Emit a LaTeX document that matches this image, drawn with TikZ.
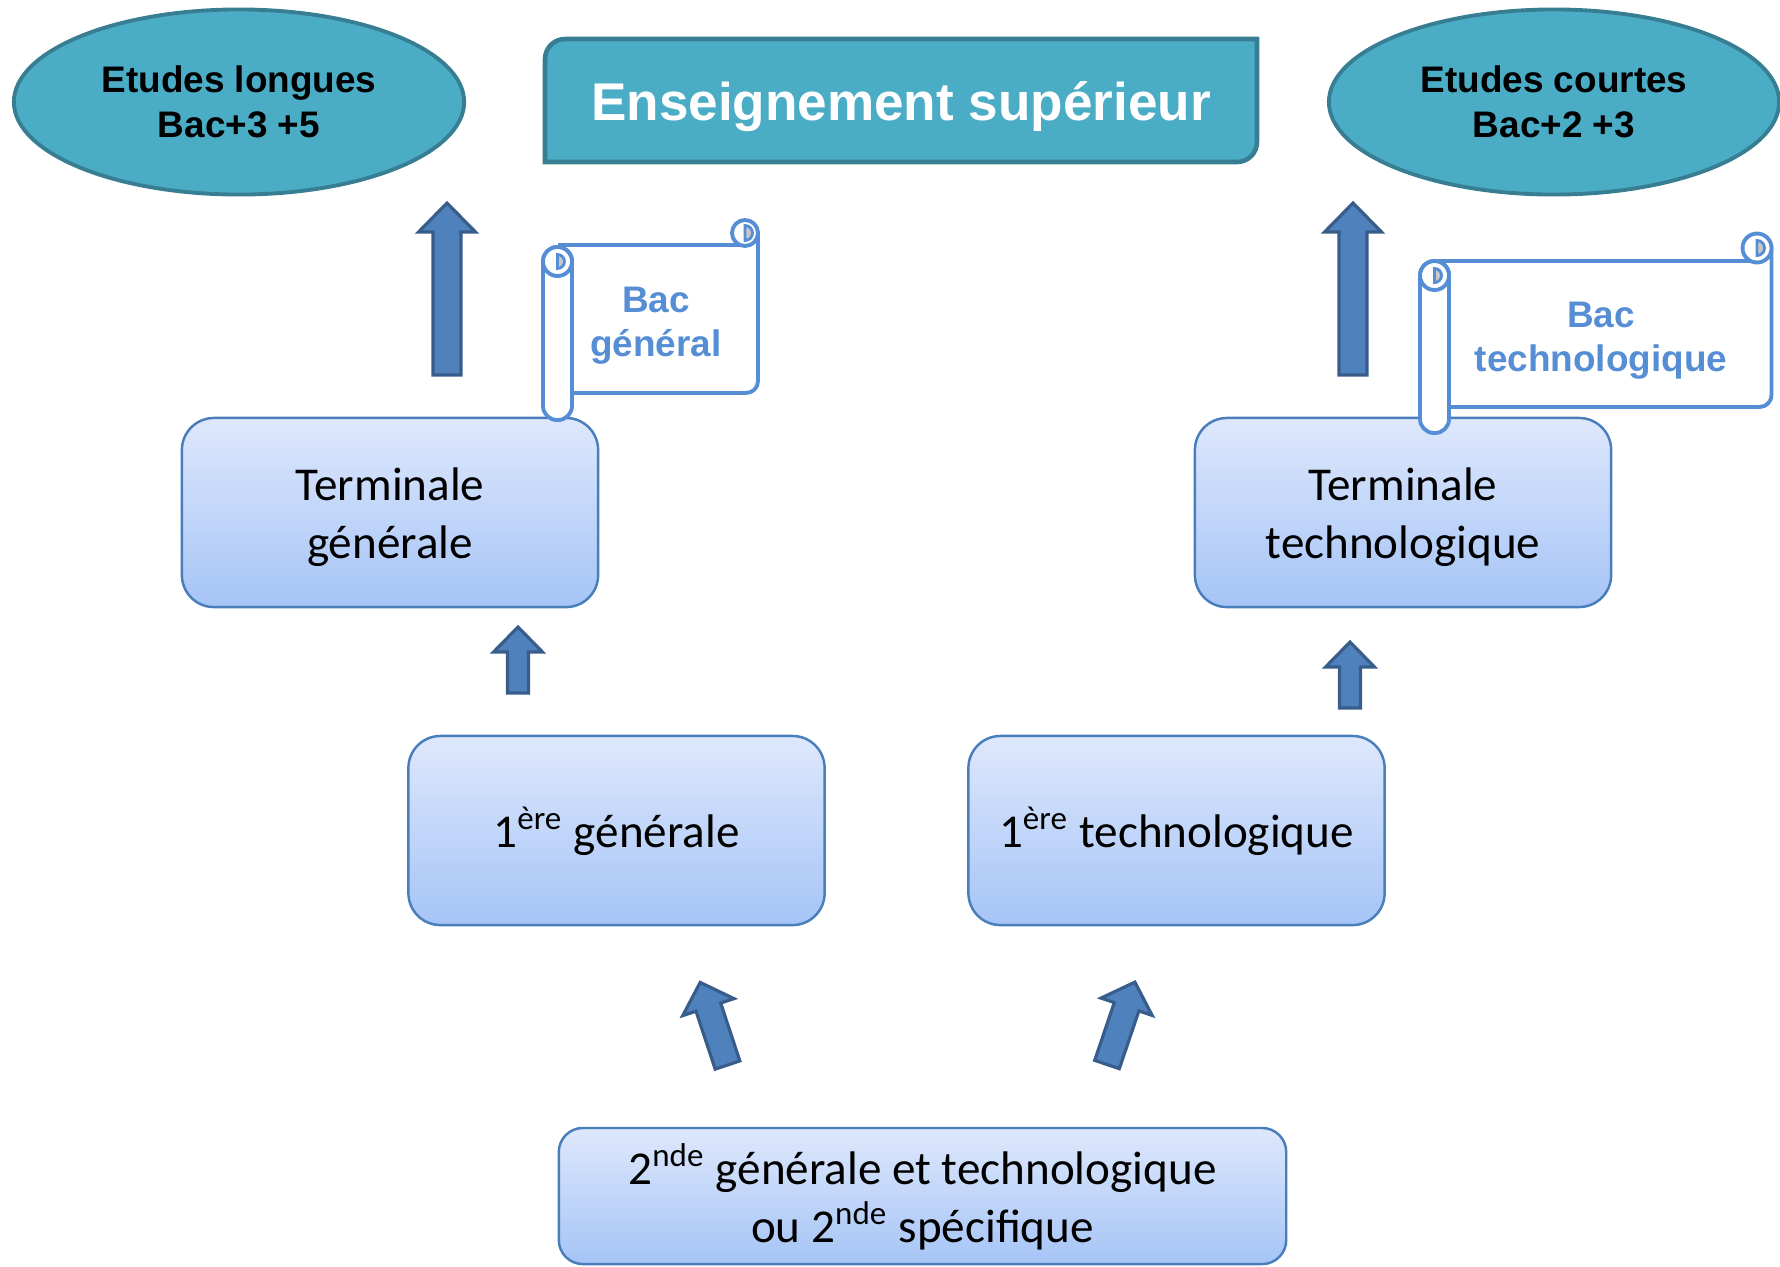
\documentclass[tikz,border=0pt]{standalone}
\usepackage{fontspec}
\setmainfont{Carlito}
\newfontfamily\arialfont{Liberation Sans}
\usetikzlibrary{shapes.geometric,positioning}

\definecolor{tealfill}{RGB}{75,172,198}
\definecolor{tealline}{RGB}{56,126,146}
\definecolor{boxtop}{RGB}{222,232,252}
\definecolor{boxbot}{RGB}{165,196,246}
\definecolor{boxline}{RGB}{74,126,187}
\definecolor{arrowfill}{RGB}{79,129,189}
\definecolor{arrowline}{RGB}{56,93,138}
\definecolor{scrollblue}{RGB}{85,142,213}
\definecolor{curlgray}{RGB}{200,200,200}

\begin{document}
\begin{tikzpicture}[x=0.01cm,y=-0.01cm,
  tealoval/.style={ellipse, draw=tealline, fill=tealfill, line width=1.1pt, minimum width=4.5cm, minimum height=1.85cm, inner sep=0pt, align=center, font=\arialfont\bfseries\fontsize{10.5}{12.8}\selectfont},
  banner/.style={draw=tealline, fill=tealfill, line width=1.3pt},
  bannertext/.style={text=white, font=\arialfont\bfseries\fontsize{15.1}{18}\selectfont},
  levelbox/.style={draw=boxline, line width=0.7pt, rounded corners=0.32cm, top color=boxtop, bottom color=boxbot, minimum width=4.16cm, minimum height=1.89cm, inner sep=0pt, align=center, font=\fontsize{13.4}{16.5}\selectfont},
  boxtext/.style={align=center, inner sep=0pt, font=\fontsize{13.4}{16.5}\selectfont},
  scrollpaper/.style={draw=scrollblue, fill=white, line width=1.1pt},
  rollcurl/.style={draw=scrollblue, fill=curlgray, line width=0.8pt},
  scrolltext/.style={text=scrollblue, align=center, font=\arialfont\bfseries\fontsize{10.5}{12.6}\selectfont},
  blockarrow/.style={draw=arrowline, fill=arrowfill, line width=0.9pt, line join=miter}]
\useasboundingbox (0,0) rectangle (1780,1266);
\node[tealoval] (longues) at (239,102) {Etudes longues\\Bac+3 +5};
\node[tealoval] (courtes) at (1554,102) {Etudes courtes\\Bac+2 +3};
\filldraw[banner] (545,162) -- (545,59) arc (180:270:20) -- (1257,39) -- (1257,142) arc (0:90:20) -- cycle;
\node[bannertext] (sup) at (901,106.5) {Enseignement supérieur};
\node[levelbox] (termg) at (390,512.5) {};
\node[boxtext] (termgtxt) at ([yshift=-0.05cm]termg.center) {Terminale\\générale};
\node[levelbox] (termt) at (1403,512.5) {};
\node[boxtext] (termttxt) at ([yshift=-0.05cm]termt.center) {Terminale\\technologique};
\node[levelbox] (premg) at (616.5,830.5) {};
\node[boxtext] (premgtxt) at ([yshift=-0.01cm]premg.center) {1\textsuperscript{ère} générale};
\node[levelbox] (premt) at (1176.5,830.5) {};
\node[boxtext] (premttxt) at ([yshift=-0.01cm]premt.center) {1\textsuperscript{ère} technologique};
\node[levelbox, minimum width=7.27cm, minimum height=1.36cm, rounded corners=0.24cm] (seconde) at (922.5,1196) {};
\node[boxtext] (secondetxt) at ([yshift=-0.01cm]seconde.center) {2\textsuperscript{nde} générale et technologique\\ou 2\textsuperscript{nde} spécifique};
\filldraw[scrollpaper] (560,245) -- (745,245) -- (745,233) -- (758,233) -- (758,381) arc (0:90:12) -- (560,393) -- cycle;
\filldraw[scrollpaper] (745,233) circle (13);
\filldraw[rollcurl] (745,225.5) arc (-90:90:7.5) -- cycle;
\filldraw[scrollpaper, rounded corners=0.14cm] (543,247) rectangle (572,420);
\draw[scrollpaper] (557.5,261.5) circle (14.5);
\filldraw[rollcurl] (557.5,254.5) arc (-90:90:7) -- cycle;
\node[scrolltext] (bacg) at (656,325.5) {Bac\\général};
\filldraw[scrollpaper] (1440,261) -- (1757,261) -- (1757,248) -- (1771.5,248) -- (1771.5,395) arc (0:90:12) -- (1440,407) -- cycle;
\filldraw[scrollpaper] (1757,248) circle (14.5);
\filldraw[rollcurl] (1757,240.5) arc (-90:90:7.5) -- cycle;
\filldraw[scrollpaper, rounded corners=0.14cm] (1420,261) rectangle (1449,433);
\draw[scrollpaper] (1434.5,275.5) circle (14.5);
\filldraw[rollcurl] (1434.5,268.5) arc (-90:90:7) -- cycle;
\node[scrolltext] (bact) at (1601,340.5) {Bac\\technologique};
\filldraw[blockarrow, shift={(447,375)}, rotate=90] (0,-14) -- (143,-14) -- (143,-28.5) -- (172,0) -- (143,28.5) -- (143,14) -- (0,14) -- cycle;
\filldraw[blockarrow, shift={(1353,375)}, rotate=90] (0,-14) -- (143,-14) -- (143,-28.5) -- (172,0) -- (143,28.5) -- (143,14) -- (0,14) -- cycle;
\filldraw[blockarrow, shift={(518,693)}, rotate=90] (0,-10.5) -- (41,-10.5) -- (41,-24.5) -- (66,0) -- (41,24.5) -- (41,10.5) -- (0,10.5) -- cycle;
\filldraw[blockarrow, shift={(1350,708)}, rotate=90] (0,-10.5) -- (41,-10.5) -- (41,-24.5) -- (66,0) -- (41,24.5) -- (41,10.5) -- (0,10.5) -- cycle;
\filldraw[blockarrow, shift={(727.5,1065)}, rotate=108.3] (0,-13) -- (61,-13) -- (61,-27) -- (87,0) -- (61,27) -- (61,13) -- (0,13) -- cycle;
\filldraw[blockarrow, shift={(1107,1064.5)}, rotate=71.3] (0,-13) -- (61,-13) -- (61,-27) -- (87,0) -- (61,27) -- (61,13) -- (0,13) -- cycle;
\end{tikzpicture}
\end{document}
